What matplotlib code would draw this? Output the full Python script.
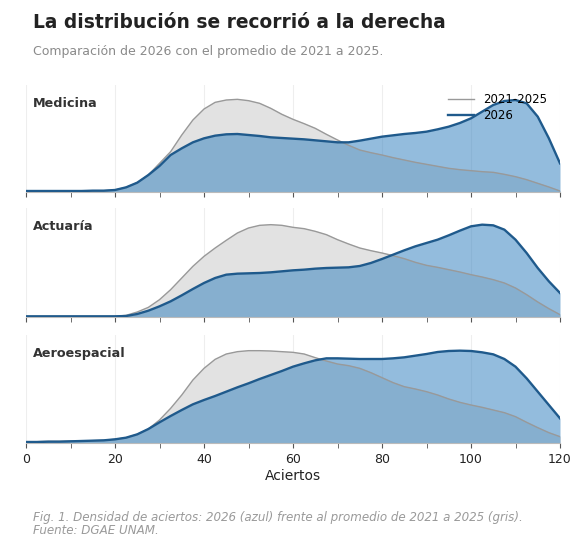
import numpy as np
import matplotlib
matplotlib.use("Agg")
import matplotlib.pyplot as plt

# Densidades (unidades arbitrarias), cada 2.5 aciertos (0 a 120)
aciertos = np.arange(0, 120.1, 2.5)

medicina_prev = [3, 3, 3, 3, 3, 3, 3, 4,
                 6, 14, 28, 51, 86, 121, 171, 216, 249, 269, 276, 278, 274, 266,
                 251, 233, 218, 205, 191, 173, 156, 140, 126, 118, 111, 103, 96,
                 89, 83, 77, 71, 67, 64, 61, 59, 53, 46, 37, 26, 15, 3]
medicina_2026 = [3, 3, 3, 3, 3, 3, 4, 4,
                 6, 14, 28, 51, 78, 111, 131, 149, 161, 169, 173, 174, 171, 168,
                 164, 162, 160, 158, 155, 152, 149, 149, 154, 160, 166, 170, 174,
                 177, 181, 188, 196, 207, 221, 241, 261, 273, 276, 266, 226, 161, 86]

actuaria_prev = [2, 2, 2, 2, 2, 2, 2, 2,
                 2, 5, 15, 29, 52, 82, 117, 152, 182, 207, 230, 252, 267, 275,
                 277, 275, 269, 265, 257, 247, 232, 219, 207, 199, 192, 184, 175,
                 164, 155, 149, 142, 135, 127, 120, 112, 102, 87, 67, 45, 25, 7]
actuaria_2026 = [2, 2, 2, 2, 2, 2, 2, 2,
                 2, 3, 9, 19, 32, 47, 65, 84, 102, 117, 127, 130, 131, 132,
                 134, 137, 140, 142, 145, 147, 148, 149, 153, 162, 174, 187, 200,
                 212, 222, 232, 245, 259, 272, 277, 275, 262, 232, 192, 147, 107, 72]

aero_prev = [4, 4, 5, 5, 6, 6, 7, 8,
             11, 16, 26, 42, 69, 104, 144, 189, 224, 251, 267, 274, 277, 277,
             276, 274, 272, 267, 256, 246, 237, 232, 224, 211, 196, 181, 169,
             162, 154, 144, 132, 122, 114, 107, 99, 91, 79, 62, 46, 31, 19]
aero_2026 = [3, 3, 4, 4, 5, 6, 7, 8,
             11, 16, 26, 42, 62, 81, 99, 116, 129, 141, 154, 167, 179, 192,
             204, 216, 229, 239, 248, 254, 254, 253, 252, 252, 252, 254, 257,
             262, 267, 273, 276, 277, 276, 272, 266, 252, 229, 194, 154, 114, 74]

carreras = ["Medicina", "Actuaría", "Aeroespacial"]
series = [(medicina_prev, medicina_2026),
          (actuaria_prev, actuaria_2026),
          (aero_prev, aero_2026)]
techos = [321, 327, 324]

GRIS_LINEA = "#999999"
GRIS_RELLENO = "#e2e2e2"
AZUL_LINEA = "#1f5a8c"
AZUL_RELLENO = "#3b85c1"

fig = plt.figure(figsize=(5.81, 5.43), dpi=100)
fig.patch.set_facecolor("white")

izq, der = 26 / 581, 560 / 581
paneles = [(85, 192), (208, 317), (335, 443)]

fig.text(33 / 581, 1 - 23 / 543, "La distribución se recorrió a la derecha",
         fontsize=13.4, fontweight="bold", color="#222222", va="center")
fig.text(33 / 581, 1 - 52 / 543, "Comparación de 2026 con el promedio de 2021 a 2025.",
         fontsize=9, color="#8a8a8a", va="center")

for i, (nombre, (prev, nuevo)) in enumerate(zip(carreras, series)):
    arriba, abajo = paneles[i]
    ax = fig.add_axes([izq, 1 - abajo / 543, der - izq, (abajo - arriba) / 543])
    ax.fill_between(aciertos, prev, color=GRIS_RELLENO, zorder=1)
    ax.plot(aciertos, prev, color=GRIS_LINEA, lw=1.0, zorder=3, label="2021-2025")
    ax.fill_between(aciertos, nuevo, color=AZUL_RELLENO, alpha=0.55, lw=0, zorder=2)
    ax.plot(aciertos, nuevo, color=AZUL_LINEA, lw=1.7, zorder=4, label="2026")

    ax.set_xlim(0, 120)
    ax.set_ylim(0, techos[i])
    ax.set_yticks([])
    for s in ("left", "right", "top"):
        ax.spines[s].set_visible(False)
    ax.spines["bottom"].set_color("#bbbbbb")
    ax.set_xticks(range(0, 121, 20))
    ax.set_xticks(range(0, 121, 10), minor=True)
    ax.tick_params(axis="x", which="both", colors="#555555", length=3.5,
                   labelsize=9, labelcolor="#222222")
    ax.grid(axis="x", color="#eeeeee", lw=0.8, zorder=0)
    ax.set_axisbelow(True)
    ax.text(0.013, 0.83, nombre, transform=ax.transAxes, fontsize=9.2,
            fontweight="bold", color="#333333", va="center")
    if i == 0:
        ax.legend(loc="upper right", frameon=False, fontsize=8.5,
                  handlelength=2.2, borderaxespad=0.0, labelspacing=0.25,
                  bbox_to_anchor=(0.985, 0.97))
    if i < 2:
        ax.tick_params(axis="x", labelbottom=False)
    else:
        ax.set_xlabel("Aciertos", fontsize=10, color="#222222", labelpad=2)

fig.text(33 / 581, 1 - 517 / 543,
         "Fig. 1. Densidad de aciertos: 2026 (azul) frente al promedio de 2021 a 2025 (gris).",
         fontsize=8.6, style="italic", color="#9a9a9a", va="center")
fig.text(33 / 581, 1 - 531 / 543, "Fuente: DGAE UNAM.",
         fontsize=8.6, style="italic", color="#9a9a9a", va="center")

fig.savefig("out.png", dpi=100, facecolor="white")
